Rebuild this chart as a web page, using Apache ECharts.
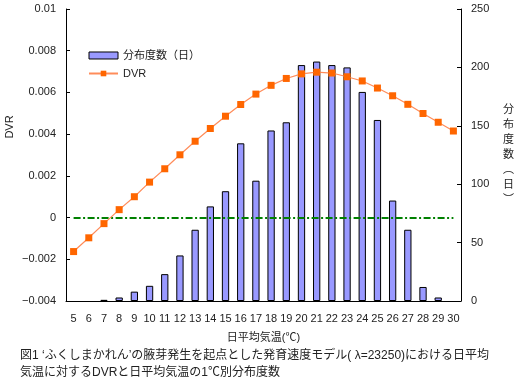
<!DOCTYPE html>
<html><head><meta charset="utf-8">
<script src="https://cdn.jsdelivr.net/npm/echarts@6/dist/echarts.min.js"></script>
<style>html,body{margin:0;padding:0;background:#fff}#c{width:517px;height:383px}</style>
</head><body><div id="c"></div>
<script>
const categories = ['5','6','7','8','9','10','11','12','13','14','15','16','17','18','19','20','21','22','23','24','25','26','27','28','29','30'];
const freqDays = [0,0,1,3,8,13,23,39,61,81,94,135,103,146,153,202,205,202,200,179,155,86,61,12,3,0];
const dvr = [-0.00163,-0.00097,-0.00029,0.00038,0.00100,0.00170,0.00234,0.00301,0.00366,0.00427,0.00486,0.00542,0.00592,0.00634,0.00667,0.00689,0.00697,0.00693,0.00675,0.00655,0.00621,0.00584,0.00543,0.00499,0.00457,0.00415];
const zeroLevel = 0;
const leftTicks = {min:-0.004, max:0.01, interval:0.002};
const rightTicks = {min:0, max:250, interval:50};
const caption1 = '図1 ‘ふくしまかれん’の腋芽発生を起点とした発育速度モデル( λ=23250)における日平均';
const caption2 = '気温に対するDVRと日平均気温の1℃別分布度数';

const FONT = '"Liberation Sans", "Noto Sans CJK JP", sans-serif';
const chart = echarts.init(document.getElementById('c'), null, {renderer:'canvas'});
chart.setOption({
  animation:false,
  textStyle:{fontFamily:FONT, color:'#222'},
  grid:{left:66, right:55, top:9, bottom:82},
  legend:{
    left:83, top:45, orient:'vertical', itemGap:7, itemWidth:29, itemHeight:7,
    textStyle:{fontSize:11, color:'#222', fontFamily:FONT},
    data:[{name:'分布度数（日）', icon:'rect', itemStyle:{borderWidth:1, borderColor:'#000'}},{name:'DVR'}]
  },
  xAxis:{
    type:'category', data:categories,
    name:'日平均気温(℃)', nameLocation:'middle', nameGap:31,
    nameTextStyle:{fontSize:11, color:'#222'},
    axisLine:{onZero:false, lineStyle:{color:'#000', width:1}},
    axisTick:{inside:true, length:4, lineStyle:{color:'#000'}},
    axisLabel:{fontSize:11, color:'#222', margin:12, interval:0},
    splitLine:{show:false}
  },
  yAxis:[
    {type:'value', min:leftTicks.min, max:leftTicks.max, interval:leftTicks.interval,
     axisLine:{show:true, lineStyle:{color:'#000'}},
     axisTick:{show:true, inside:true, length:4, lineStyle:{color:'#000'}},
     axisLabel:{fontSize:11, color:'#222', margin:10,
       formatter:v=>{const r=+v.toFixed(4); return r<0?'−'+String(-r):String(r);}},
     splitLine:{show:false}},
    {type:'value', min:rightTicks.min, max:rightTicks.max, interval:rightTicks.interval,
     position:'right',
     name:'分\n布\n度\n数\n︵\n日\n︶', nameLocation:'middle', nameGap:42, nameRotate:0,
     nameTextStyle:{fontSize:11, color:'#222', lineHeight:15},
     axisLine:{show:true, lineStyle:{color:'#000'}},
     axisTick:{show:true, inside:true, length:4, lineStyle:{color:'#000'}},
     axisLabel:{fontSize:11, color:'#222', margin:10},
     splitLine:{show:false}}
  ],
  series:[
    {name:'分布度数（日）', type:'bar', yAxisIndex:1, data:freqDays.map(v=>v===0?'-':v), barWidth:'48%',
     itemStyle:{color:'#9999FF', borderColor:'#000', borderWidth:1}, z:2},
    {name:'DVR', type:'line', yAxisIndex:0, data:dvr, symbol:'rect', symbolSize:7,
     itemStyle:{color:'#FF6600'}, lineStyle:{color:'#FF8C5A', width:1.2}, z:6,
     markLine:{silent:true, symbol:'none', animation:false, label:{show:false},
       lineStyle:{color:'#008000', width:2.2, opacity:1, type:[7,2.5,2,2.5]},
       emphasis:{disabled:true},
       data:[[{coord:[categories[0], zeroLevel]},{coord:[categories[categories.length-1], zeroLevel]}]]}}
  ],
  graphic:[
    {type:'text', x:10, y:127, rotation:Math.PI/2, style:{text:'DVR', font:'11px '+FONT, fill:'#222', align:'center', verticalAlign:'middle'}},
    {type:'text', left:20, top:350, style:{text:caption1, font:'12px '+FONT, fill:'#222'}},
    {type:'text', left:20, top:367, style:{text:caption2, font:'12px '+FONT, fill:'#222'}}
  ]
});
</script></body></html>
